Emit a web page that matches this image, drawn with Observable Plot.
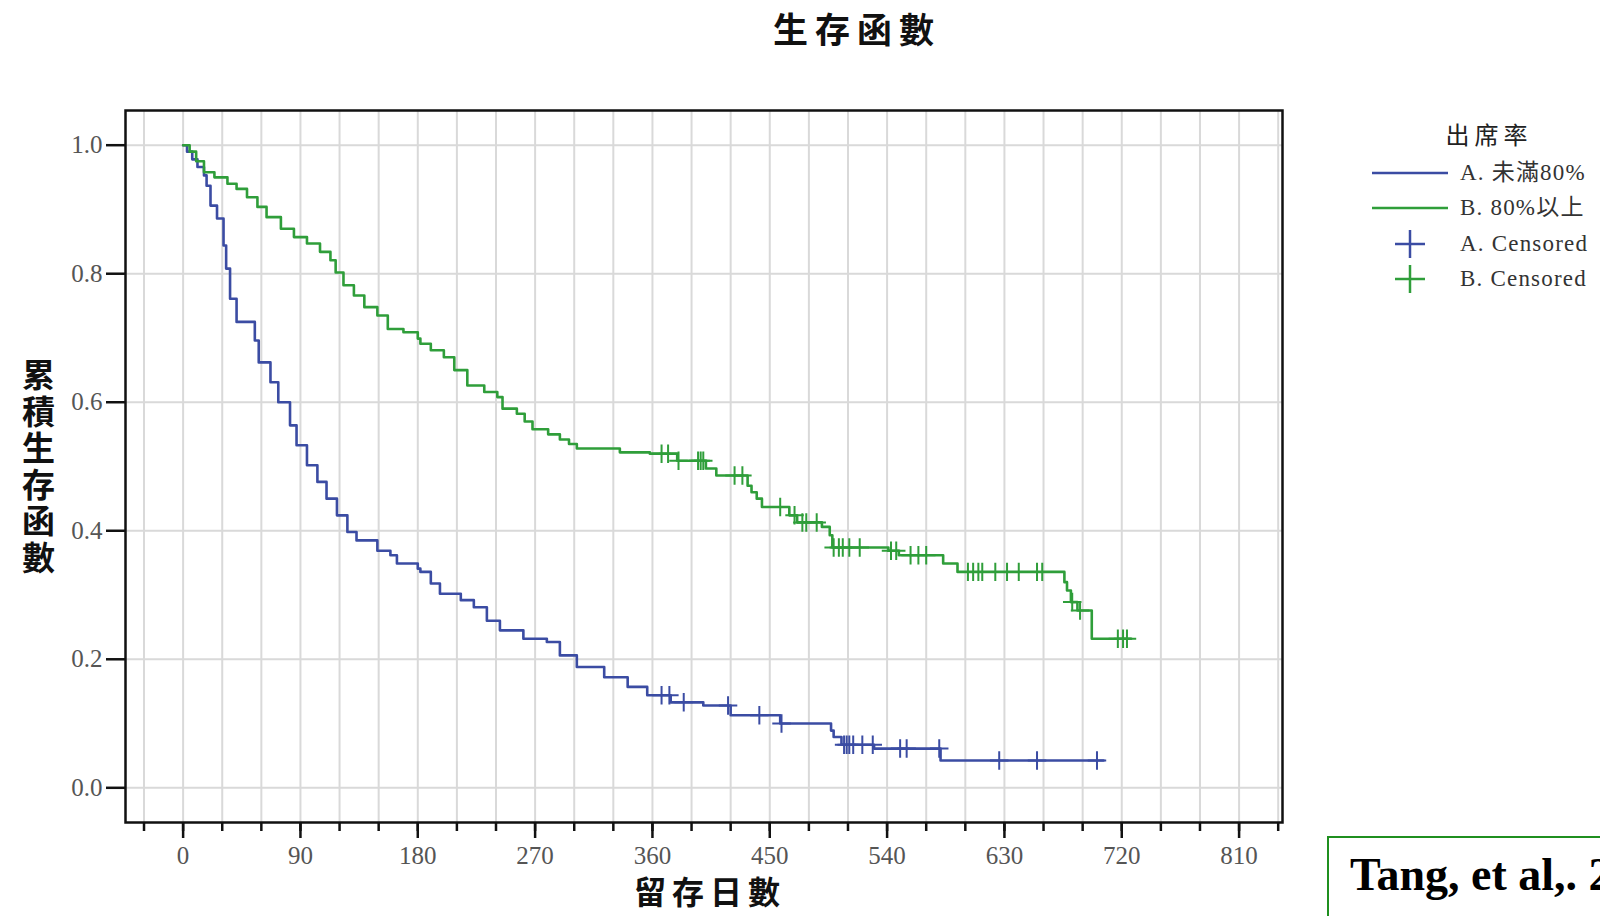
<!DOCTYPE html>
<html><head><meta charset="utf-8">
<script src="https://cdn.jsdelivr.net/npm/d3@7"></script>
<script src="https://cdn.jsdelivr.net/npm/@observablehq/plot@0.6"></script>
<style>
body{margin:0;width:1600px;height:916px;overflow:hidden;background:#fff;position:relative;}
#chart{position:absolute;left:0;top:0;}
.cjk{font-family:"Noto Sans CJK TC","Noto Sans CJK SC",sans-serif;}
#title{position:absolute;left:650px;width:400px;top:6px;text-align:center;font-weight:700;font-size:35px;line-height:44px;letter-spacing:7px;padding-left:7px;color:#111;}
#xlabel{position:absolute;left:554px;width:300px;top:867px;text-align:center;font-weight:700;font-size:32px;letter-spacing:6px;padding-left:6px;color:#111;}
#ylabel{position:absolute;left:22px;top:355px;width:34px;font-weight:700;font-size:33px;line-height:36.6px;word-break:break-all;color:#111;}
#legtitle{position:absolute;left:1384px;width:200px;top:116px;text-align:center;font-size:24px;line-height:36px;letter-spacing:5px;padding-left:5px;color:#222;}
.leg{position:absolute;left:1340px;height:34px;width:260px;}
.leg svg{position:absolute;left:0;top:0;}
.leg span{position:absolute;left:120px;top:0;line-height:34px;font-family:"Liberation Serif","Noto Sans CJK TC",serif;font-size:23px;letter-spacing:1.2px;color:#333;white-space:nowrap;}
#cite{position:absolute;left:1327px;top:836px;width:400px;height:140px;border:2px solid #1f8f1f;background:#fff;}
#cite span{position:absolute;left:21px;top:14px;font-family:"Liberation Serif",serif;font-weight:700;font-size:46px;line-height:46px;color:#000;white-space:nowrap;}
</style>
</head><body>
<div id="chart"></div>
<div id="title" class="cjk">生存函數</div>
<div id="xlabel" class="cjk">留存日數</div>
<div id="ylabel" class="cjk">累積生存函數</div>
<div id="legtitle" class="cjk">出席率</div>
<div id="legend"></div>
<div id="cite"><span>Tang, et al,. 2</span></div>
<script>
// ---- Data ----
const groupNames = ["A. 未滿80%", "B. 80%以上"];
const censorNames = ["A. Censored", "B. Censored"];
const legendTitle = "出席率";

// Group A: step times (days) and survival
const timesA = [0, 3, 7, 11, 16, 18, 21, 26, 31, 33, 36, 41, 55, 58, 67, 73, 82, 87, 95, 103, 110, 118, 126, 133, 149, 159, 164, 180, 182, 190, 197, 213, 223, 233, 243, 261, 279, 289, 302, 323, 341, 356, 374, 399, 420, 458, 497, 499, 505, 530, 581, 706];
const survA  = [1.0, 0.99, 0.978, 0.966, 0.953, 0.937, 0.906, 0.886, 0.844, 0.808, 0.761, 0.725, 0.696, 0.662, 0.631, 0.600, 0.564, 0.533, 0.502, 0.476, 0.450, 0.424, 0.398, 0.385, 0.369, 0.362, 0.349, 0.341, 0.336, 0.318, 0.302, 0.292, 0.281, 0.260, 0.245, 0.232, 0.227, 0.206, 0.188, 0.172, 0.157, 0.144, 0.133, 0.128, 0.113, 0.100, 0.089, 0.079, 0.067, 0.061, 0.0425, 0.0425];
const censorTimesA = [367, 373, 384, 418, 442, 459, 507, 509, 511, 514, 521, 529, 550, 555, 580, 626, 655, 701];

// Group B
const timesB = [0, 5, 10, 16, 24, 34, 41, 49, 57, 64, 75, 85, 95, 105, 113, 117, 123, 131, 139, 149, 157, 169, 180, 182, 190, 200, 208, 218, 231, 241, 245, 256, 262, 268, 280, 289, 296, 302, 335, 358, 379, 401, 409, 433, 436, 440, 444, 465, 471, 490, 496, 498, 541, 549, 583, 594, 676, 678, 681, 686, 697, 727];
const survB  = [1.0, 0.99, 0.975, 0.958, 0.950, 0.940, 0.932, 0.919, 0.904, 0.888, 0.870, 0.857, 0.847, 0.834, 0.821, 0.802, 0.782, 0.766, 0.748, 0.735, 0.714, 0.709, 0.699, 0.691, 0.681, 0.670, 0.650, 0.626, 0.616, 0.608, 0.590, 0.582, 0.570, 0.558, 0.550, 0.542, 0.535, 0.528, 0.522, 0.520, 0.509, 0.497, 0.486, 0.470, 0.460, 0.450, 0.437, 0.424, 0.413, 0.406, 0.393, 0.374, 0.369, 0.362, 0.349, 0.336, 0.320, 0.307, 0.289, 0.276, 0.232, 0.232];
const censorTimesB = [367, 372, 380, 395, 397, 399, 423, 429, 458, 469, 475, 478, 486, 499, 503, 506, 511, 519, 543, 547, 558, 564, 570, 602, 606, 610, 613, 623, 632, 641, 655, 659, 682, 688, 717, 721, 724];

// Axis ticks
const xMajorTicks = [0, 90, 180, 270, 360, 450, 540, 630, 720, 810];
const xMinorTicks = d3.range(-30, 841, 30);
const yTicks = [0.0, 0.2, 0.4, 0.6, 0.8, 1.0];

const colorA = "#3b4ca3";
const colorB = "#2f9e3a";

// ---- Build tables ----
const lineA = timesA.map((t, i) => ({t, s: survA[i]}));
const lineB = timesB.map((t, i) => ({t, s: survB[i]}));
function levelAt(times, surv, t) { let s = surv[0]; for (let i = 0; i < times.length; i++) if (times[i] <= t) s = surv[i]; return s; }
const censA = censorTimesA.map(t => ({t, s: levelAt(timesA, survA, t)}));
const censB = censorTimesB.map(t => ({t, s: levelAt(timesB, survB, t)}));

const chart = Plot.plot({
  width: 1600, height: 916,
  marginLeft: 125, marginRight: 318, marginTop: 110, marginBottom: 94,
  x: {domain: [-44.2, 843.3]},
  y: {domain: [-0.054, 1.054]},
  style: {fontFamily: "Liberation Serif, serif", fontSize: "25px", background: "transparent", overflow: "visible"},
  marks: [
    Plot.gridX(xMinorTicks, {stroke: "#d9d9d9", strokeOpacity: 1, strokeWidth: 2}),
    Plot.gridY(yTicks, {stroke: "#d9d9d9", strokeOpacity: 1, strokeWidth: 2}),
    Plot.line(lineA, {x: "t", y: "s", curve: "step-after", stroke: colorA, strokeWidth: 2.6}),
    Plot.line(lineB, {x: "t", y: "s", curve: "step-after", stroke: colorB, strokeWidth: 2.6}),
    Plot.dot(censA, {x: "t", y: "s", symbol: "plus", r: 6, stroke: colorA, strokeWidth: 2}),
    Plot.dot(censB, {x: "t", y: "s", symbol: "plus", r: 6, stroke: colorB, strokeWidth: 2}),
    Plot.frame({stroke: "#111", strokeWidth: 2.5}),
    Plot.axisX(xMajorTicks, {tickSize: 16, fill: "none", stroke: "#111", strokeWidth: 2.5, label: null}),
    Plot.axisX(xMinorTicks, {tickSize: 9, fill: "none", stroke: "#111", strokeWidth: 2.5, label: null}),
    Plot.axisX(xMajorTicks, {tickSize: 0, tickPadding: 24, fill: "#555", label: null}),
    Plot.axisY(yTicks, {tickSize: 19, fill: "none", stroke: "#111", strokeWidth: 2.5, label: null}),
    Plot.axisY(yTicks, {tickSize: 0, tickPadding: 23, tickFormat: d3.format(".1f"), fill: "#555", label: null})
  ]
});
document.getElementById("chart").appendChild(chart);

// ---- Legend ----
const leg = document.getElementById("legend");
const rows = [
  {label: groupNames[0], color: colorA, kind: "line", y: 156},
  {label: groupNames[1], color: colorB, kind: "line", y: 191},
  {label: censorNames[0], color: colorA, kind: "plus", y: 227},
  {label: censorNames[1], color: colorB, kind: "plus", y: 262}
];
rows.forEach(r => {
  const div = document.createElement("div");
  div.className = "leg";
  div.style.top = r.y + "px";
  const sw = r.kind === "line"
    ? `<svg width="112" height="34"><line x1="32" x2="108" y1="17" y2="17" stroke="${r.color}" stroke-width="2.5"/></svg>`
    : `<svg width="112" height="34"><line x1="55" x2="85" y1="17" y2="17" stroke="${r.color}" stroke-width="2.5"/><line x1="70" x2="70" y1="3" y2="31" stroke="${r.color}" stroke-width="2.5"/></svg>`;
  div.innerHTML = sw + `<span>${r.label}</span>`;
  leg.appendChild(div);
});
</script>
</body></html>
